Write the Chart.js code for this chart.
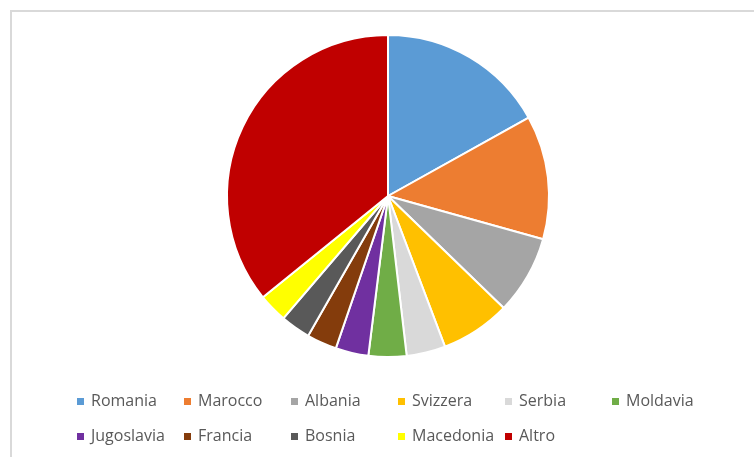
<!DOCTYPE html>
<html>
<head>
<meta charset="utf-8">
<script src="https://cdn.jsdelivr.net/npm/chart.js@4/dist/chart.umd.min.js"></script>
<style>
  html, body { margin: 0; padding: 0; background: #fff; }
  #pieChart { display: block; }
</style>
</head>
<body>
<canvas id="pieChart" width="754" height="457"></canvas>
<script>
const countries = ['Romania', 'Marocco', 'Albania', 'Svizzera', 'Serbia', 'Moldavia',
  'Jugoslavia', 'Francia', 'Bosnia', 'Macedonia', 'Altro'];
const shares = [16.9, 12.4, 7.9, 7.0, 3.9, 3.8, 3.3, 3.0, 3.0, 2.9, 35.8];
const sliceColors = ['#5B9BD5', '#ED7D31', '#A5A5A5', '#FFC000', '#D9D9D9', '#70AD47',
  '#7030A0', '#843C0C', '#595959', '#FFFF00', '#C00000'];

// excel style legend: fixed grid, 6 columns
const gridLegend = {
  id: 'gridLegend',
  beforeDraw(chart) {
    const ctx = chart.ctx;
    ctx.save();
    ctx.strokeStyle = '#d9d9d9';
    ctx.lineWidth = 2;
    ctx.beginPath();
    ctx.moveTo(11, 457);
    ctx.lineTo(11, 11);
    ctx.lineTo(754, 11);
    ctx.stroke();
    ctx.restore();
  },
  afterDraw(chart) {
    const ctx = chart.ctx;
    const labels = chart.data.labels;
    const colors = chart.data.datasets[0].backgroundColor;
    ctx.save();
    ctx.font = '16px "Open Sans"';
    ctx.textBaseline = 'middle';
    labels.forEach((label, i) => {
      const col = i % 6;
      const row = Math.floor(i / 6);
      const x = 77 + col * 107;
      const y = 401 + row * 35;
      ctx.fillStyle = colors[i];
      ctx.fillRect(x, y - 3, 7, 7);
      ctx.fillStyle = '#595959';
      ctx.fillText(label, x + 14, y);
    });
    ctx.restore();
  }
};

const pieCtx = document.getElementById('pieChart').getContext('2d');

const pieChart = new Chart(pieCtx, {
  type: 'pie',
  data: {
    labels: countries,
    datasets: [{
      data: shares,
      backgroundColor: sliceColors,
      borderColor: '#ffffff',
      borderWidth: 2
    }]
  },
  options: {
    responsive: false,
    animation: false,
    layout: {
      padding: { top: 34, bottom: 99, left: 226, right: 204 }
    },
    plugins: {
      legend: { display: false },
      tooltip: { enabled: false }
    }
  },
  plugins: [gridLegend]
});
</script>
</body>
</html>
